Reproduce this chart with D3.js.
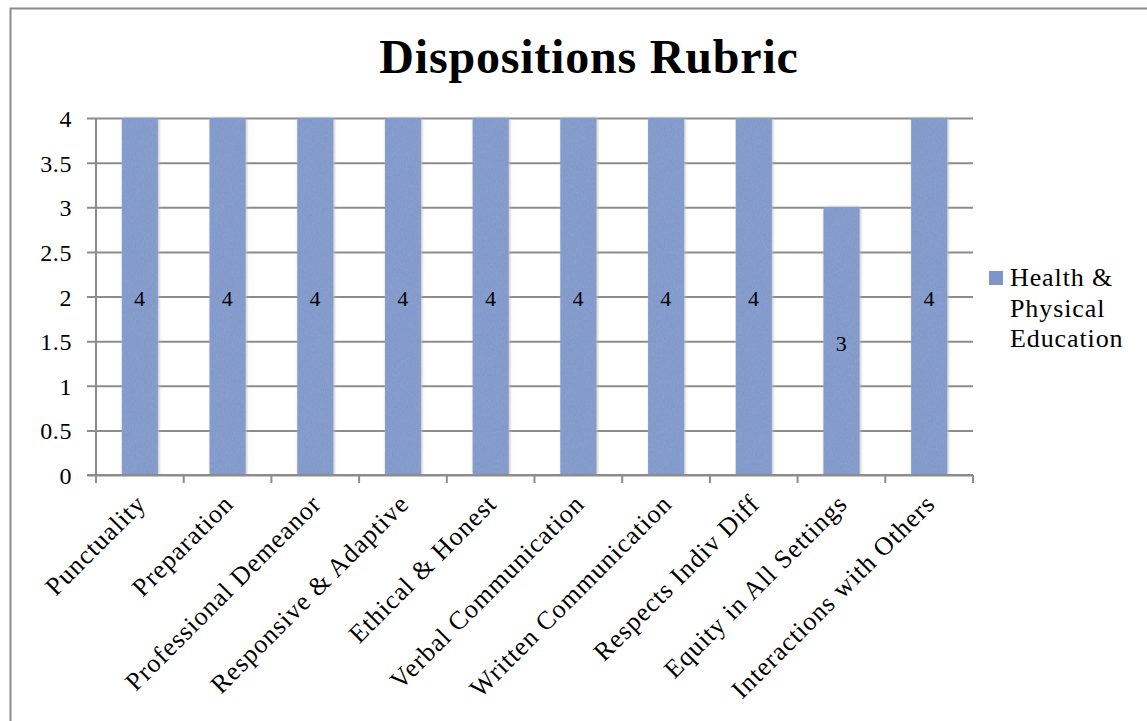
<!DOCTYPE html>
<html>
<head>
<meta charset="utf-8">
<script src="https://cdn.jsdelivr.net/npm/d3@7/dist/d3.min.js"></script>
<style>
  html, body { margin: 0; padding: 0; background: #fff; }
  svg { display: block; }
  text { font-family: "Liberation Serif", "Times New Roman", serif; fill: #000; }
</style>
</head>
<body>
<svg id="chart" width="1147" height="721"></svg>
<script>
// Chart data
const categories = [
  "Punctuality", "Preparation", "Professional Demeanor", "Responsive & Adaptive",
  "Ethical & Honest", "Verbal Communication", "Written Communication",
  "Respects Indiv Diff", "Equity in All Settings", "Interactions with Others"
];
const values = [4, 4, 4, 4, 4, 4, 4, 4, 3, 4];
const yTicks = [0, 0.5, 1, 1.5, 2, 2.5, 3, 3.5, 4];
const seriesName = ["Health &", "Physical", "Education"];
const titleText = "Dispositions Rubric";

const FONT = '"Liberation Serif", "Times New Roman", serif';
const svg = d3.select("#chart");
const W = 1147, H = 721;

// Outer frame
svg.append("rect")
  .attr("x", 10.5).attr("y", 8.5)
  .attr("width", W + 20).attr("height", H + 20)
  .attr("fill", "#fff").attr("stroke", "#8c8c8c").attr("stroke-width", 2);

const plot = { left: 96, right: 973, top: 118, bottom: 475 };

const x = d3.scaleBand()
  .domain(categories)
  .range([plot.left, plot.right])
  .paddingInner(0.59)
  .paddingOuter(0.295);

const y = d3.scaleLinear()
  .domain([0, 4])
  .range([plot.bottom, plot.top]);

// Soft bar texture
const defs = svg.append("defs");
const filt = defs.append("filter").attr("id", "grain").attr("x", "-10%").attr("y", "0").attr("width", "120%").attr("height", "100%");
filt.append("feTurbulence").attr("type", "fractalNoise").attr("baseFrequency", "0.9 0.35").attr("numOctaves", 2).attr("seed", 3).attr("result", "noise");
filt.append("feColorMatrix").attr("in", "noise").attr("type", "matrix")
  .attr("values", "0 0 0 0 0.45  0 0 0 0 0.55  0 0 0 0 0.75  0 0 0 0.25 0").attr("result", "tint");
filt.append("feComposite").attr("in", "tint").attr("in2", "SourceGraphic").attr("operator", "in").attr("result", "tintIn");
filt.append("feMerge").selectAll("feMergeNode").data(["SourceGraphic", "tintIn"]).enter()
  .append("feMergeNode").attr("in", d => d);

const shadow = defs.append("filter").attr("id", "shade").attr("x", "-20%").attr("y", "-5%").attr("width", "140%").attr("height", "110%");
shadow.append("feGaussianBlur").attr("stdDeviation", 1.6);

// Gridlines (with outward tick stubs on the left)
const yAxis = d3.axisLeft(y).tickValues(yTicks).tickSize(plot.right - plot.left + 9).tickFormat("");
const gy = svg.append("g")
  .attr("transform", `translate(${plot.right},0)`)
  .call(yAxis);
gy.select(".domain").remove();
gy.selectAll(".tick line").attr("stroke", "#8c8c8c").attr("stroke-width", 2);
gy.selectAll(".tick text").remove();

// Y tick labels
svg.append("g").selectAll("text").data(yTicks).enter().append("text")
  .attr("x", 72).attr("y", d => y(d))
  .attr("dy", "0.38em")
  .attr("text-anchor", "end")
  .style("font-family", FONT)
  .style("font-size", "24px")
  .style("letter-spacing", "0.6px")
  .text(d => d);

// Y axis line
svg.append("line")
  .attr("x1", plot.left).attr("x2", plot.left)
  .attr("y1", plot.top).attr("y2", plot.bottom)
  .attr("stroke", "#8c8c8c").attr("stroke-width", 2);

// Bars: blurred shadow then fill
const bars = svg.append("g");
bars.selectAll("rect.sh").data(values).enter().append("rect")
  .attr("class", "sh")
  .attr("x", (d, i) => x(categories[i]) + 1)
  .attr("y", d => y(d))
  .attr("width", x.bandwidth())
  .attr("height", d => y(0) - y(d))
  .attr("fill", "#b9b9b9")
  .attr("filter", "url(#shade)");
bars.selectAll("rect.bar").data(values).enter().append("rect")
  .attr("class", "bar")
  .attr("x", (d, i) => x(categories[i]))
  .attr("y", d => y(d))
  .attr("width", x.bandwidth())
  .attr("height", d => y(0) - y(d))
  .attr("fill", "#7d95c9")
  .attr("filter", "url(#grain)");

// X axis line with category boundary ticks
svg.append("line")
  .attr("x1", plot.left - 9).attr("x2", plot.right)
  .attr("y1", plot.bottom).attr("y2", plot.bottom)
  .attr("stroke", "#8c8c8c").attr("stroke-width", 2);
const step = x.step();
const bounds = d3.range(categories.length + 1).map(i => plot.left + i * step);
svg.append("g").selectAll("line").data(bounds).enter().append("line")
  .attr("x1", d => d).attr("x2", d => d)
  .attr("y1", plot.bottom).attr("y2", plot.bottom + 8)
  .attr("stroke", "#8c8c8c").attr("stroke-width", 2);

// Value labels centred in each bar
svg.append("g").selectAll("text").data(values).enter().append("text")
  .attr("x", (d, i) => x(categories[i]) + x.bandwidth() / 2)
  .attr("y", d => y(d / 2))
  .attr("dy", "0.45em")
  .attr("text-anchor", "middle")
  .style("font-family", FONT)
  .style("font-size", "22px")
  .style("letter-spacing", "0.5px")
  .text(d => d);

// Rotated category labels
svg.append("g").selectAll("text").data(categories).enter().append("text")
  .attr("transform", d => `translate(${x(d) + x.bandwidth() / 2 + 1},${plot.bottom + 24}) rotate(-45)`)
  .attr("text-anchor", "end")
  .attr("dy", "0.35em")
  .style("font-family", FONT)
  .style("font-size", "26px")
  .style("letter-spacing", "1px")
  .text(d => d);

// Title
svg.append("text")
  .attr("x", 589).attr("y", 73)
  .attr("text-anchor", "middle")
  .style("font-family", FONT)
  .style("font-size", "48px")
  .style("font-weight", "bold")
  .style("letter-spacing", "0.8px")
  .text(titleText);

// Legend
const lg = svg.append("g");
lg.append("rect")
  .attr("x", 989).attr("y", 271).attr("width", 14).attr("height", 14)
  .attr("fill", "#7d95c9");
lg.selectAll("text").data(seriesName).enter().append("text")
  .attr("x", 1010).attr("y", (d, i) => 286 + i * 30.5)
  .style("font-family", FONT)
  .style("font-size", "26px")
  .style("letter-spacing", "0.9px")
  .text(d => d);
</script>
</body>
</html>
